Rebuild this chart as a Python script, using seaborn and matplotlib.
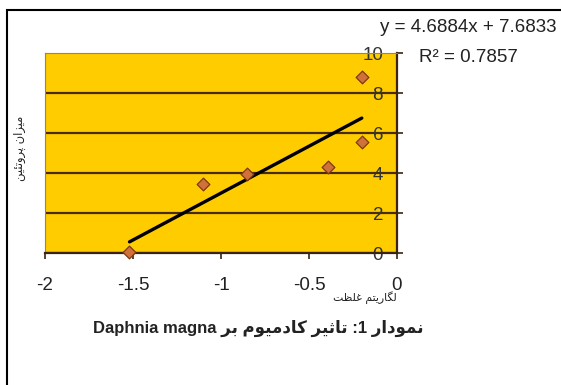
import re
import matplotlib
matplotlib.use("Agg")
import matplotlib.pyplot as plt
import seaborn as sns
import pandas as pd

# Log of concentration vs. protein amount
log_conc = [-1.52, -1.10, -0.85, -0.39, -0.20, -0.20]
protein = [0.05, 3.45, 3.95, 4.30, 5.55, 8.80]

# Linear trendline
slope = 4.6884
intercept = 7.6833
r_squared = 0.7857

x_ticks = [-2, -1.5, -1, -0.5, 0]
y_ticks = [0, 2, 4, 6, 8, 10]

x_label = "لگاریتم غلظت"
y_label = "میزان پروتئین"
caption_fa = "نمودار 1: تاثیر کادمیوم بر"
caption_latin = "Daphnia magna"

# --- minimal Arabic-script shaping (presentation forms) and visual ordering ---
FORMS = {
    "ا": ("\uFE8D", "\uFE8E", None, None),
    "ب": ("\uFE8F", "\uFE90", "\uFE91", "\uFE92"),
    "پ": ("\uFB56", "\uFB57", "\uFB58", "\uFB59"),
    "ت": ("\uFE95", "\uFE96", "\uFE97", "\uFE98"),
    "ث": ("\uFE99", "\uFE9A", "\uFE9B", "\uFE9C"),
    "د": ("\uFEA9", "\uFEAA", None, None),
    "ر": ("\uFEAD", "\uFEAE", None, None),
    "ز": ("\uFEAF", "\uFEB0", None, None),
    "ظ": ("\uFEC5", "\uFEC6", "\uFEC7", "\uFEC8"),
    "غ": ("\uFECD", "\uFECE", "\uFECF", "\uFED0"),
    "ک": ("\uFB8E", "\uFB8F", "\uFB90", "\uFB91"),
    "گ": ("\uFB92", "\uFB93", "\uFB94", "\uFB95"),
    "ل": ("\uFEDD", "\uFEDE", "\uFEDF", "\uFEE0"),
    "م": ("\uFEE1", "\uFEE2", "\uFEE3", "\uFEE4"),
    "ن": ("\uFEE5", "\uFEE6", "\uFEE7", "\uFEE8"),
    "و": ("\uFEED", "\uFEEE", None, None),
    "ی": ("\uFBFC", "\uFBFD", "\uFBFE", "\uFBFF"),
    "ئ": ("\uFE89", "\uFE8A", "\uFE8B", "\uFE8C"),
}


def _dual(c):
    return c in FORMS and FORMS[c][2] is not None


def shape(text):
    out = []
    for i, c in enumerate(text):
        if c not in FORMS:
            out.append(c)
            continue
        prev = text[i - 1] if i > 0 else ""
        nxt = text[i + 1] if i + 1 < len(text) else ""
        join_prev = _dual(prev)
        join_next = _dual(c) and nxt in FORMS
        iso, fin, ini, med = FORMS[c]
        if join_prev and join_next:
            out.append(med)
        elif join_prev:
            out.append(fin)
        elif join_next:
            out.append(ini)
        else:
            out.append(iso)
    return "".join(out)


def visual(text):
    tokens = re.findall(r"[A-Za-z0-9.]+|[^A-Za-z0-9.]+", shape(text))
    return "".join(t if re.match(r"[A-Za-z0-9.]", t) else t[::-1]
                   for t in reversed(tokens))


# --- figure ---
W, H = 561, 385
sns.set_theme(style="white")
plt.rcParams["font.family"] = ["Liberation Sans", "DejaVu Sans"]

fig = plt.figure(figsize=(W / 100, H / 100), dpi=100)
fig.patch.set_facecolor("white")


def fx(px):
    return px / W


def fy(py):
    return 1 - py / H


ax = fig.add_axes([fx(45), fy(253), fx(397) - fx(45), fy(53) - fy(253)])
ax.set_facecolor("#FFCC00")

df = pd.DataFrame({"x": log_conc, "y": protein})
line_x = [min(log_conc), max(log_conc)]
line_df = pd.DataFrame({"x": line_x, "y": [slope * v + intercept for v in line_x]})

sns.lineplot(data=line_df, x="x", y="y", ax=ax, color="black", lw=2.4,
             zorder=3)
sns.scatterplot(data=df, x="x", y="y", ax=ax, marker="D", s=42,
                color="#D0703A", edgecolor="#7A3A12", linewidth=0.9,
                zorder=4, clip_on=False)

ax.set_xlim(-2, 0)
ax.set_ylim(0, 10)
ax.set_xticks(x_ticks)
ax.set_xticklabels([f"{v:g}" for v in x_ticks])
ax.set_yticks(y_ticks)
ax.set_yticklabels([f"{v:g}" for v in y_ticks])
ax.set_xlabel("")
ax.set_ylabel("")

ax.yaxis.grid(True, color="#4A2C12", lw=1.6)
ax.xaxis.grid(False)
ax.yaxis.get_gridlines()[-1].set_visible(False)
ax.set_axisbelow(True)

for side in ("top", "left"):
    ax.spines[side].set_color("#9C8650")
    ax.spines[side].set_linewidth(0.8)
for side in ("bottom", "right"):
    ax.spines[side].set_color("#3A2410")
    ax.spines[side].set_linewidth(1.6)

ax.yaxis.tick_right()
ax.tick_params(axis="x", direction="out", length=4.5, width=1.2,
               color="#3A2410", pad=13, labelsize=13.5, labelcolor="#222222",
               bottom=True)
ax.tick_params(axis="y", direction="out", length=4, width=1.2,
               color="#3A2410", pad=-14, labelsize=13.5, labelcolor="#333333",
               right=True, left=False)
for t in ax.get_yticklabels():
    t.set_horizontalalignment("right")

# equation of the trendline
fig.text(fx(468), fy(27), f"y = {slope}x + {intercept}", ha="center",
         va="center", fontsize=13.5, color="#222222")
fig.text(fx(468), fy(57), f"R\u00b2 = {r_squared}", ha="center",
         va="center", fontsize=13.5, color="#222222")

# axis titles
fig.text(fx(397), fy(298), visual(x_label), ha="right", va="center",
         fontsize=7.8, color="#222222", family=["DejaVu Sans"])
fig.text(fx(20), fy(148), visual(y_label), ha="center", va="center",
         rotation=90, fontsize=8.3, color="#222222", family=["DejaVu Sans"])

# caption
fig.text(fx(93), fy(328), caption_latin + " " + visual(caption_fa),
         ha="left", va="center", fontsize=12, fontweight="bold",
         color="#222222", family=["Liberation Sans", "DejaVu Sans"])

# chart frame
fig.add_artist(plt.Rectangle((fx(7), fy(400)), fx(600), fy(10) - fy(400),
                             transform=fig.transFigure, fill=False,
                             edgecolor="black", lw=1.5))

fig.savefig("out.png", dpi=100)
